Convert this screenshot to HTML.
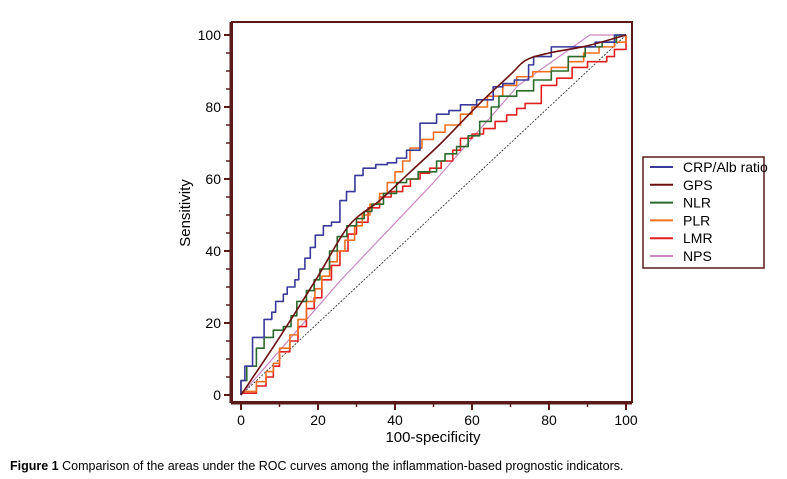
<!DOCTYPE html>
<html><head><meta charset="utf-8"><style>
body{margin:0;background:#fff;}
svg{display:block;font-family:"Liberation Sans",sans-serif;}
</style></head><body>
<svg id="c" width="787" height="479">
<rect x="232" y="22" width="400" height="380" fill="none" stroke="#5a1a1a" stroke-width="2"/>
<line x1="231" y1="22" x2="231" y2="403" stroke="#5a1a1a" stroke-width="3"/>
<line x1="231" y1="403" x2="632" y2="403" stroke="#5a1a1a" stroke-width="3"/>
<g id="ticks"></g>
<g id="series"></g>
<text x="433" y="442" font-size="15" text-anchor="middle">100-specificity</text>
<text x="190" y="213" font-size="15" text-anchor="middle" transform="rotate(-90 190 213)">Sensitivity</text>
<g>
<rect x="643" y="157" width="121" height="111" fill="#fff" stroke="#5a1a1a" stroke-width="1.5"/>
<g id="legend"></g>
</g>
<text x="10" y="470" font-size="12.5"><tspan font-weight="bold">Figure 1</tspan> Comparison of the areas under the ROC curves among the inflammation-based prognostic indicators.</text>
</svg>
<script>
const xTicks=[0,20,40,60,80,100];
const yTicks=[0,20,40,60,80,100];
const seriesNames=["CRP/Alb ratio","GPS","NLR","PLR","LMR","NPS"];
const crpFpr=[0,1,3,5,6,8,9,11,12,14,15,16.6,18,19.3,21.4,23.5,25.7,27.4,29.6,31.7,35,38,40.4,43,46.5,50.8,54,57,61.2,65.5,68,71,74.7,76,80.6,86,92,97,100];
const crpTpr=[4,8,16,16,21,23,26,28,30,32,35,38,41,44.4,47,48,54,56.5,61,63,64,64.5,65.8,68,75.5,78,79,80.6,82,85.6,86.5,87.5,91.7,94,96.7,96.7,98,100,100];
const gpsFpr=[0,10,20,28,36,44,52,62,70,74,80,90,100];
const gpsTpr=[0,16,33,47,54,62,70,81,89,93,95,97,100];
const nlrFpr=[0,1.5,4,6,8.4,11,13,14.5,17,19,20.5,23,25,27.5,30,32,34,37,40.4,43,46,50.8,53,56,59,62,65,67,71.6,76,80.6,85,89.4,93.8,97.5,100];
const nlrTpr=[4,8,13,16,18,19,22,26,29,32,35,40,44,47,49,51,53,56,59,60,62,65,67,69,72,76,80,83,84.5,87.5,90,94,96.7,98,100,100];
const plrFpr=[0,4,6.5,8.4,10,12.7,14.8,17,19.2,21,23,25,27,29.5,31.5,33.5,36,38,40,42,43.9,47,50,53,57,60,64,68,71.6,75.8,80.6,85,89,93,97,100];
const plrTpr=[1,3.7,6.5,8.8,13,16.7,21,26,29.5,33,37,40,43,47,50,53,56,59,62,65,68.6,71,73,75,78,80,83,86,88.4,89.8,91,92.6,95,96.7,98,100];
const lmrFpr=[0,4,6.5,8.4,10,12.7,14.8,17,19,21,23.5,25.7,27.8,30,33,36,39,42,44,46.5,49,52,55,57,60,63,66,69,71.6,73.8,78,82,86,90,95,97,100];
const lmrTpr=[0.5,2.5,5,8,12,15,19,24,27,32,36,40,44.7,48,52,55,56.5,58,60,61.6,63,65,68,71.3,72.5,74,76,77.8,79.6,81,86,88,91,92.6,94,96,100];
const npsFpr=[0,26,50,72,90.6,100];
const npsTpr=[0,32,59,86,100,100];
const refFpr=[0,100];
const refTpr=[0,100];
const colors=["#3a3a9a","#6b1010","#2a6a2a","#f07020","#e02020","#cc88c4"];
const X=v=>241+v*3.85, Y=v=>395-v*3.6;
const NS="http://www.w3.org/2000/svg";
function mk(t,a){const e=document.createElementNS(NS,t);for(const k in a)e.setAttribute(k,a[k]);return e;}
const tg=document.getElementById('ticks');
xTicks.forEach(v=>{
 const l=mk('line',{x1:X(v),x2:X(v),y1:403,y2:410,stroke:'#5a1a1a','stroke-width':2});
 
 
 tg.appendChild(l);
 const t=mk('text',{x:X(v),y:425,'font-size':14,'text-anchor':'middle'});t.textContent=v;
 
 
 tg.appendChild(t);
});
for(let v=10;v<100;v+=20){const l=mk('line',{x1:X(v),x2:X(v),y1:403,y2:407,stroke:'#5a1a1a','stroke-width':1.5});
 
 
 tg.appendChild(l);}
yTicks.forEach(v=>{
 const l=mk('line',{x1:224,x2:231,y1:Y(v),y2:Y(v),stroke:'#5a1a1a','stroke-width':2});
 
 
 tg.appendChild(l);
 const t=mk('text',{x:221,y:Y(v)+5,'font-size':14,'text-anchor':'end'});t.textContent=v;
 
 
 tg.appendChild(t);
});
for(let v=5;v<100;v+=5){if(v%20===0)continue;const l=mk('line',{x1:226,x2:231,y1:Y(v),y2:Y(v),stroke:'#5a1a1a','stroke-width':1.5});
 
 
 tg.appendChild(l);}
const sg=document.getElementById('series');
function stepPath(f,t){let d='M'+X(0)+','+Y(0);for(let i=0;i<f.length;i++){d+=' H'+X(f[i])+' V'+Y(t[i]);}return d;}
function linePath(f,t){return f.map((v,i)=>(i?'L':'M')+X(v)+','+Y(t[i])).join(' ');}
function smoothPath(f,t){const p=f.map((v,i)=>[X(v),Y(t[i])]);let d='M'+p[0][0]+','+p[0][1];
 for(let i=0;i<p.length-1;i++){const p0=p[i-1]||p[i],p1=p[i],p2=p[i+1],p3=p[i+2]||p2;
 const c1=[p1[0]+(p2[0]-p0[0])/6,p1[1]+(p2[1]-p0[1])/6],c2=[p2[0]-(p3[0]-p1[0])/6,p2[1]-(p3[1]-p1[1])/6];
 d+=' C'+c1.join(',')+' '+c2.join(',')+' '+p2.join(',');}return d;}
const r=mk('path',{d:linePath(refFpr,refTpr),fill:'none',stroke:'#222','stroke-width':0.8,'stroke-dasharray':'2,1.5'});


sg.appendChild(r);
const defs=[
 ['nps-curve',linePath(npsFpr,npsTpr),5],
 ['lmr-curve',stepPath(lmrFpr,lmrTpr),4],
 ['plr-curve',stepPath(plrFpr,plrTpr),3],
 ['nlr-curve',stepPath(nlrFpr,nlrTpr),2],
 ['crp-alb-curve',stepPath(crpFpr,crpTpr),0],
 ['gps-curve',smoothPath(gpsFpr,gpsTpr),1]];
defs.forEach(s=>{const p=mk('path',{d:s[1],fill:'none',stroke:colors[s[2]],'stroke-width':s[2]===5?1.2:1.6,'stroke-linejoin':'round'});
 
 
 sg.appendChild(p);});
const lg=document.getElementById('legend');
seriesNames.forEach((n,i)=>{const y=167+i*17.8;
 const g=mk('g',{});
 
 
 g.appendChild(mk('line',{x1:650,x2:673,y1:y,y2:y,stroke:colors[i],'stroke-width':2}));
 const t=mk('text',{x:683,y:y+5,'font-size':14});t.textContent=n;g.appendChild(t);
 lg.appendChild(g);});
</script>
</body></html>
